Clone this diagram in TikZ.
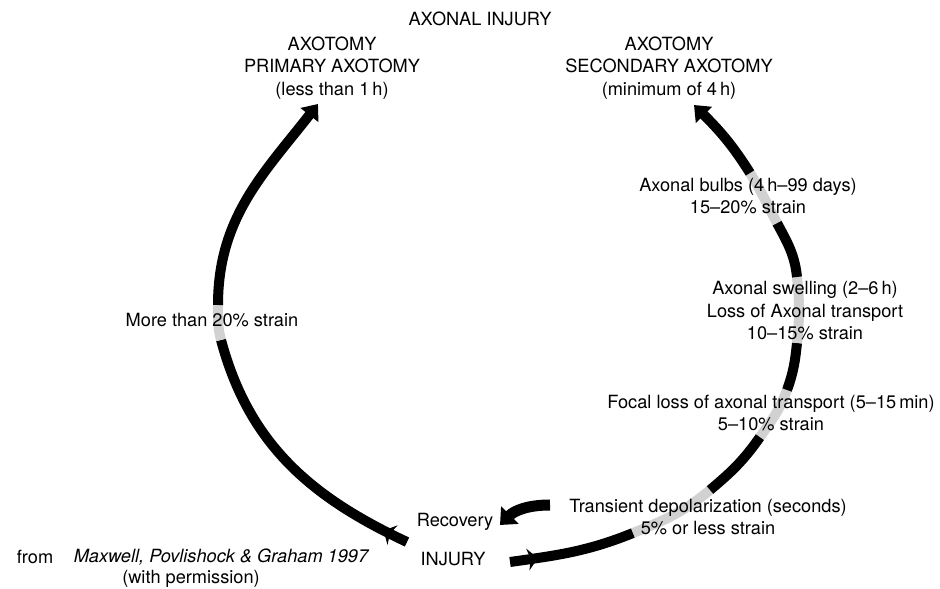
\documentclass[tikz,border=0pt]{standalone}
\usepackage{fontspec}
\setmainfont{TeX Gyre Heros}
\usetikzlibrary{arrows.meta,decorations.markings}
\tikzset{
  band/.style={line width=10pt},
  blk/.style={band,draw=black},
  gry/.style={band,draw=black!18},
  headtip/.style={-{Triangle[length=14pt,width=22pt]}},
  fletch/.style={postaction={decorate},
    decoration={markings,mark=at position #1 with {\arrow{Stealth[length=10pt,width=22pt,inset=3pt]}}}},
  lbl/.style={align=center,inner sep=0pt,font=\fontsize{18.2}{22.5}\selectfont}
}
\begin{document}
\begin{tikzpicture}[x=1pt,y=1pt]
  \useasboundingbox (0,0) rectangle (940,589);
  % knots of the right loop
  \coordinate (r0) at (510,27);
  \coordinate (r1) at (633,56);
  \coordinate (r2) at (710,99);
  \coordinate (r3) at (760,152);
  \coordinate (r4) at (787,199);
  \coordinate (r5) at (797,246);
  \coordinate (r6) at (797,312);
  \coordinate (r7) at (777,366);
  \coordinate (r8) at (750,416);
  \coordinate (r9) at (694,484);
  % knots of the left loop
  \coordinate (l0) at (407,47);
  \coordinate (l1) at (221,249);
  \coordinate (l2) at (218,284);
  \coordinate (l3) at (318,485);
  % recovery
  \coordinate (c0) at (550,84);
  \coordinate (c1) at (500,64);

  \draw[blk,fletch=28pt] (r0) to[out=8,in=202] (r1);
  \draw[gry] (r1) to[out=22,in=220] (r2);
  \draw[blk] (r2) to[out=40,in=235] (r3);
  \draw[gry] (r3) to[out=55,in=250] (r4);
  \draw[blk] (r4) to[out=70,in=264] (r5);
  \draw[gry] (r5) to[out=84,in=276] (r6);
  \draw[blk] (r6) to[out=96,in=298] (r7);
  \draw[gry] (r7) to[out=118,in=302] (r8);
  \draw[blk,headtip] (r8) to[out=122,in=315] (r9);

  \draw[blk,fletch=26pt] (l0) to[out=155,in=285] (l1);
  \draw[gry] (l1) to[out=105,in=270] (l2);
  \draw[blk,headtip] (l2) to[out=90,in=232] (l3);

  \draw[line width=11pt,-{Triangle[length=14pt,width=24pt]}] (c0) to[out=180,in=45] (c1);

  \node[lbl] (title) at (480,570) {AXONAL INJURY};
  \node[lbl] (primary) at (332,521) {AXOTOMY\\PRIMARY AXOTOMY\\(less than 1\,h)};
  \node[lbl] (secondary) at (669,521) {AXOTOMY\\SECONDARY AXOTOMY\\(minimum of 4\,h)};
  \node[lbl] (over20) at (212,269) {More than 20\% strain};
  \node[lbl] (bulbs) at (748,393) {Axonal bulbs (4\,h--99 days)\\15--20\% strain};
  \node[lbl] (swelling) at (805,278) {Axonal swelling (2--6\,h)\\Loss of Axonal transport\\10--15\% strain};
  \node[lbl] (focal) at (771,176) {Focal loss of axonal transport (5--15\,min)\\5--10\% strain};
  \node[lbl] (transient) at (708,72) {Transient depolarization (seconds)\\5\% or less strain};
  \node[lbl] (recovery) at (455,67) {Recovery};
  \node[lbl] (injury) at (453,30) {INJURY};
  \node[lbl] (from) at (35,32) {from};
  \node[lbl,font=\fontsize{18.2}{22.5}\selectfont\itshape] (source) at (221,32) {Maxwell, Povlishock \& Graham 1997};
  \node[lbl] (permission) at (191,10) {(with permission)};
\end{tikzpicture}
\end{document}
